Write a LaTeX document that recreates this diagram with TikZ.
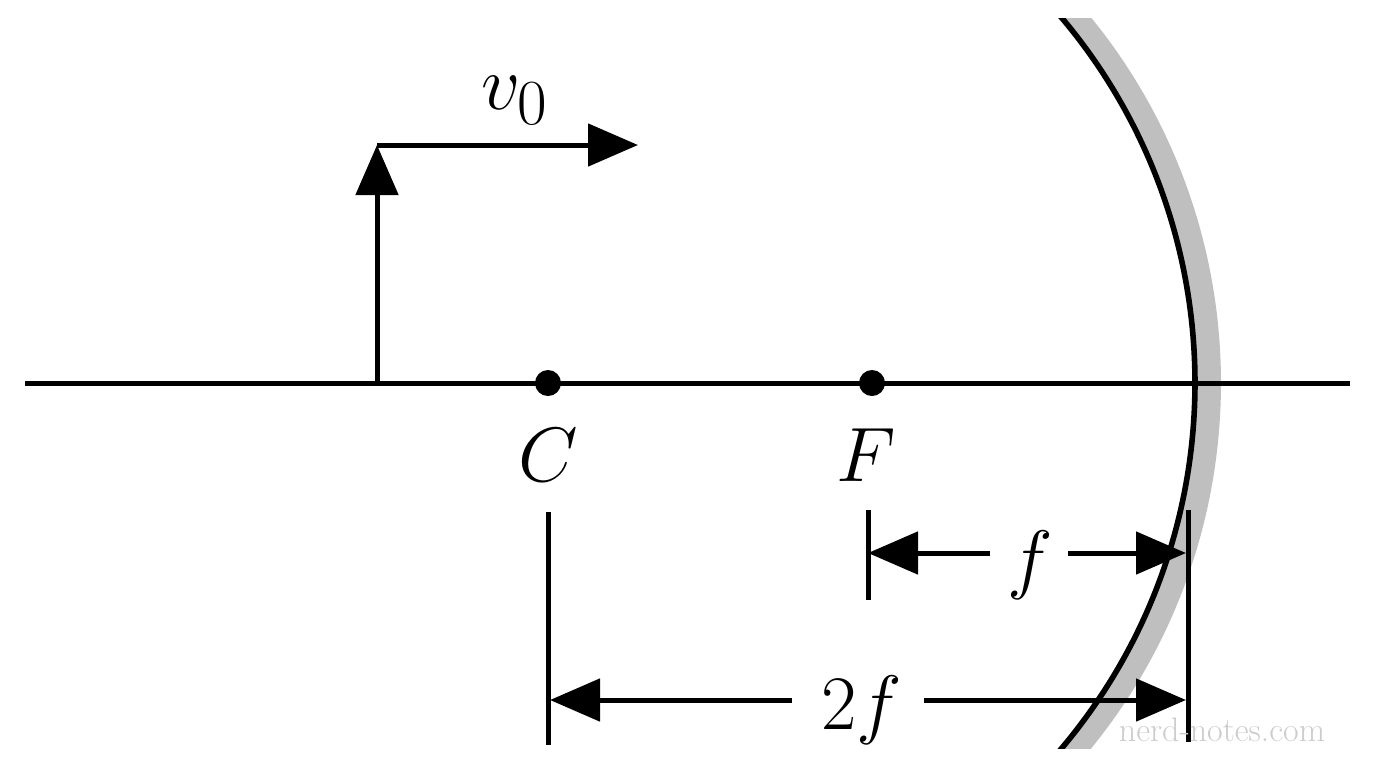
\documentclass[tikz,border=0pt]{standalone}
\usetikzlibrary{arrows.meta}
\usepackage{graphicx}
\begin{document}
\begin{tikzpicture}[x=0.5pt,y=-0.5pt,
  ln/.style={line width=2.5pt},
  tip/.style={-{Triangle[length=25pt,width=21pt]}},
  lbl/.style={inner sep=0pt},
  dot/.style={circle,fill,inner sep=0pt,minimum size=13pt}]
\useasboundingbox (0,0) rectangle (1376,768);
% mirror
\begin{scope}
\clip (900,18) rectangle (1300,748);
\draw[gray!50,line width=12pt] (642,383) ++(-42:567) arc[start angle=-42,end angle=42,radius=567];
\draw[ln,line width=2.8pt] (628,383) ++(-42:567) arc[start angle=-42,end angle=42,radius=567];
\end{scope}
% axis
\coordinate (L) at (25,383); \coordinate (R) at (1350,383);
\draw[ln] (L) -- (R);
\node[dot] (C) at (548,383) {};
\node[dot] (F) at (872,383) {};
\node[lbl] (Cl) at (548,455) {\scalebox{1.55}{\Huge $C$}};
\node[lbl] (Fl) at (866,455) {\scalebox{1.55}{\Huge $F$}};
% object
\coordinate (O) at (377,383); \coordinate (T) at (377,145); \coordinate (V) at (638,145);
\draw[ln,tip] (O) -- (T);
\draw[ln,tip] (T) -- (V);
\node[lbl] (v) at (515,100) {\scalebox{1.55}{\Huge $v_0$}};
% dimensions
\coordinate (f1) at (868,510); \coordinate (f2) at (868,600);
\coordinate (m1) at (1188,510); \coordinate (m2) at (1188,742);
\coordinate (c1) at (548,512); \coordinate (c2) at (548,745);
\draw[ln] (f1) -- (f2); \draw[ln] (m1) -- (m2); \draw[ln] (c1) -- (c2);
\node[lbl] (fl) at (1030,565) {\scalebox{1.55}{\Huge $f$}};
\coordinate (fa) at (990,553); \coordinate (fb) at (1068,553);
\draw[ln,tip] (fa) -- (868,553);
\draw[ln,tip] (fb) -- (1186,553);
\node[lbl] (tf) at (862,710) {\scalebox{1.55}{\Huge $2f$}};
\coordinate (ta) at (792,700); \coordinate (tb) at (924,700);
\draw[ln,tip] (ta) -- (550,700);
\draw[ln,tip] (tb) -- (1186,700);
\node[text=gray!40,font=\fontsize{17}{18}\selectfont] (w) at (1222,730) {nerd-notes.com};
\end{tikzpicture}
\end{document}
